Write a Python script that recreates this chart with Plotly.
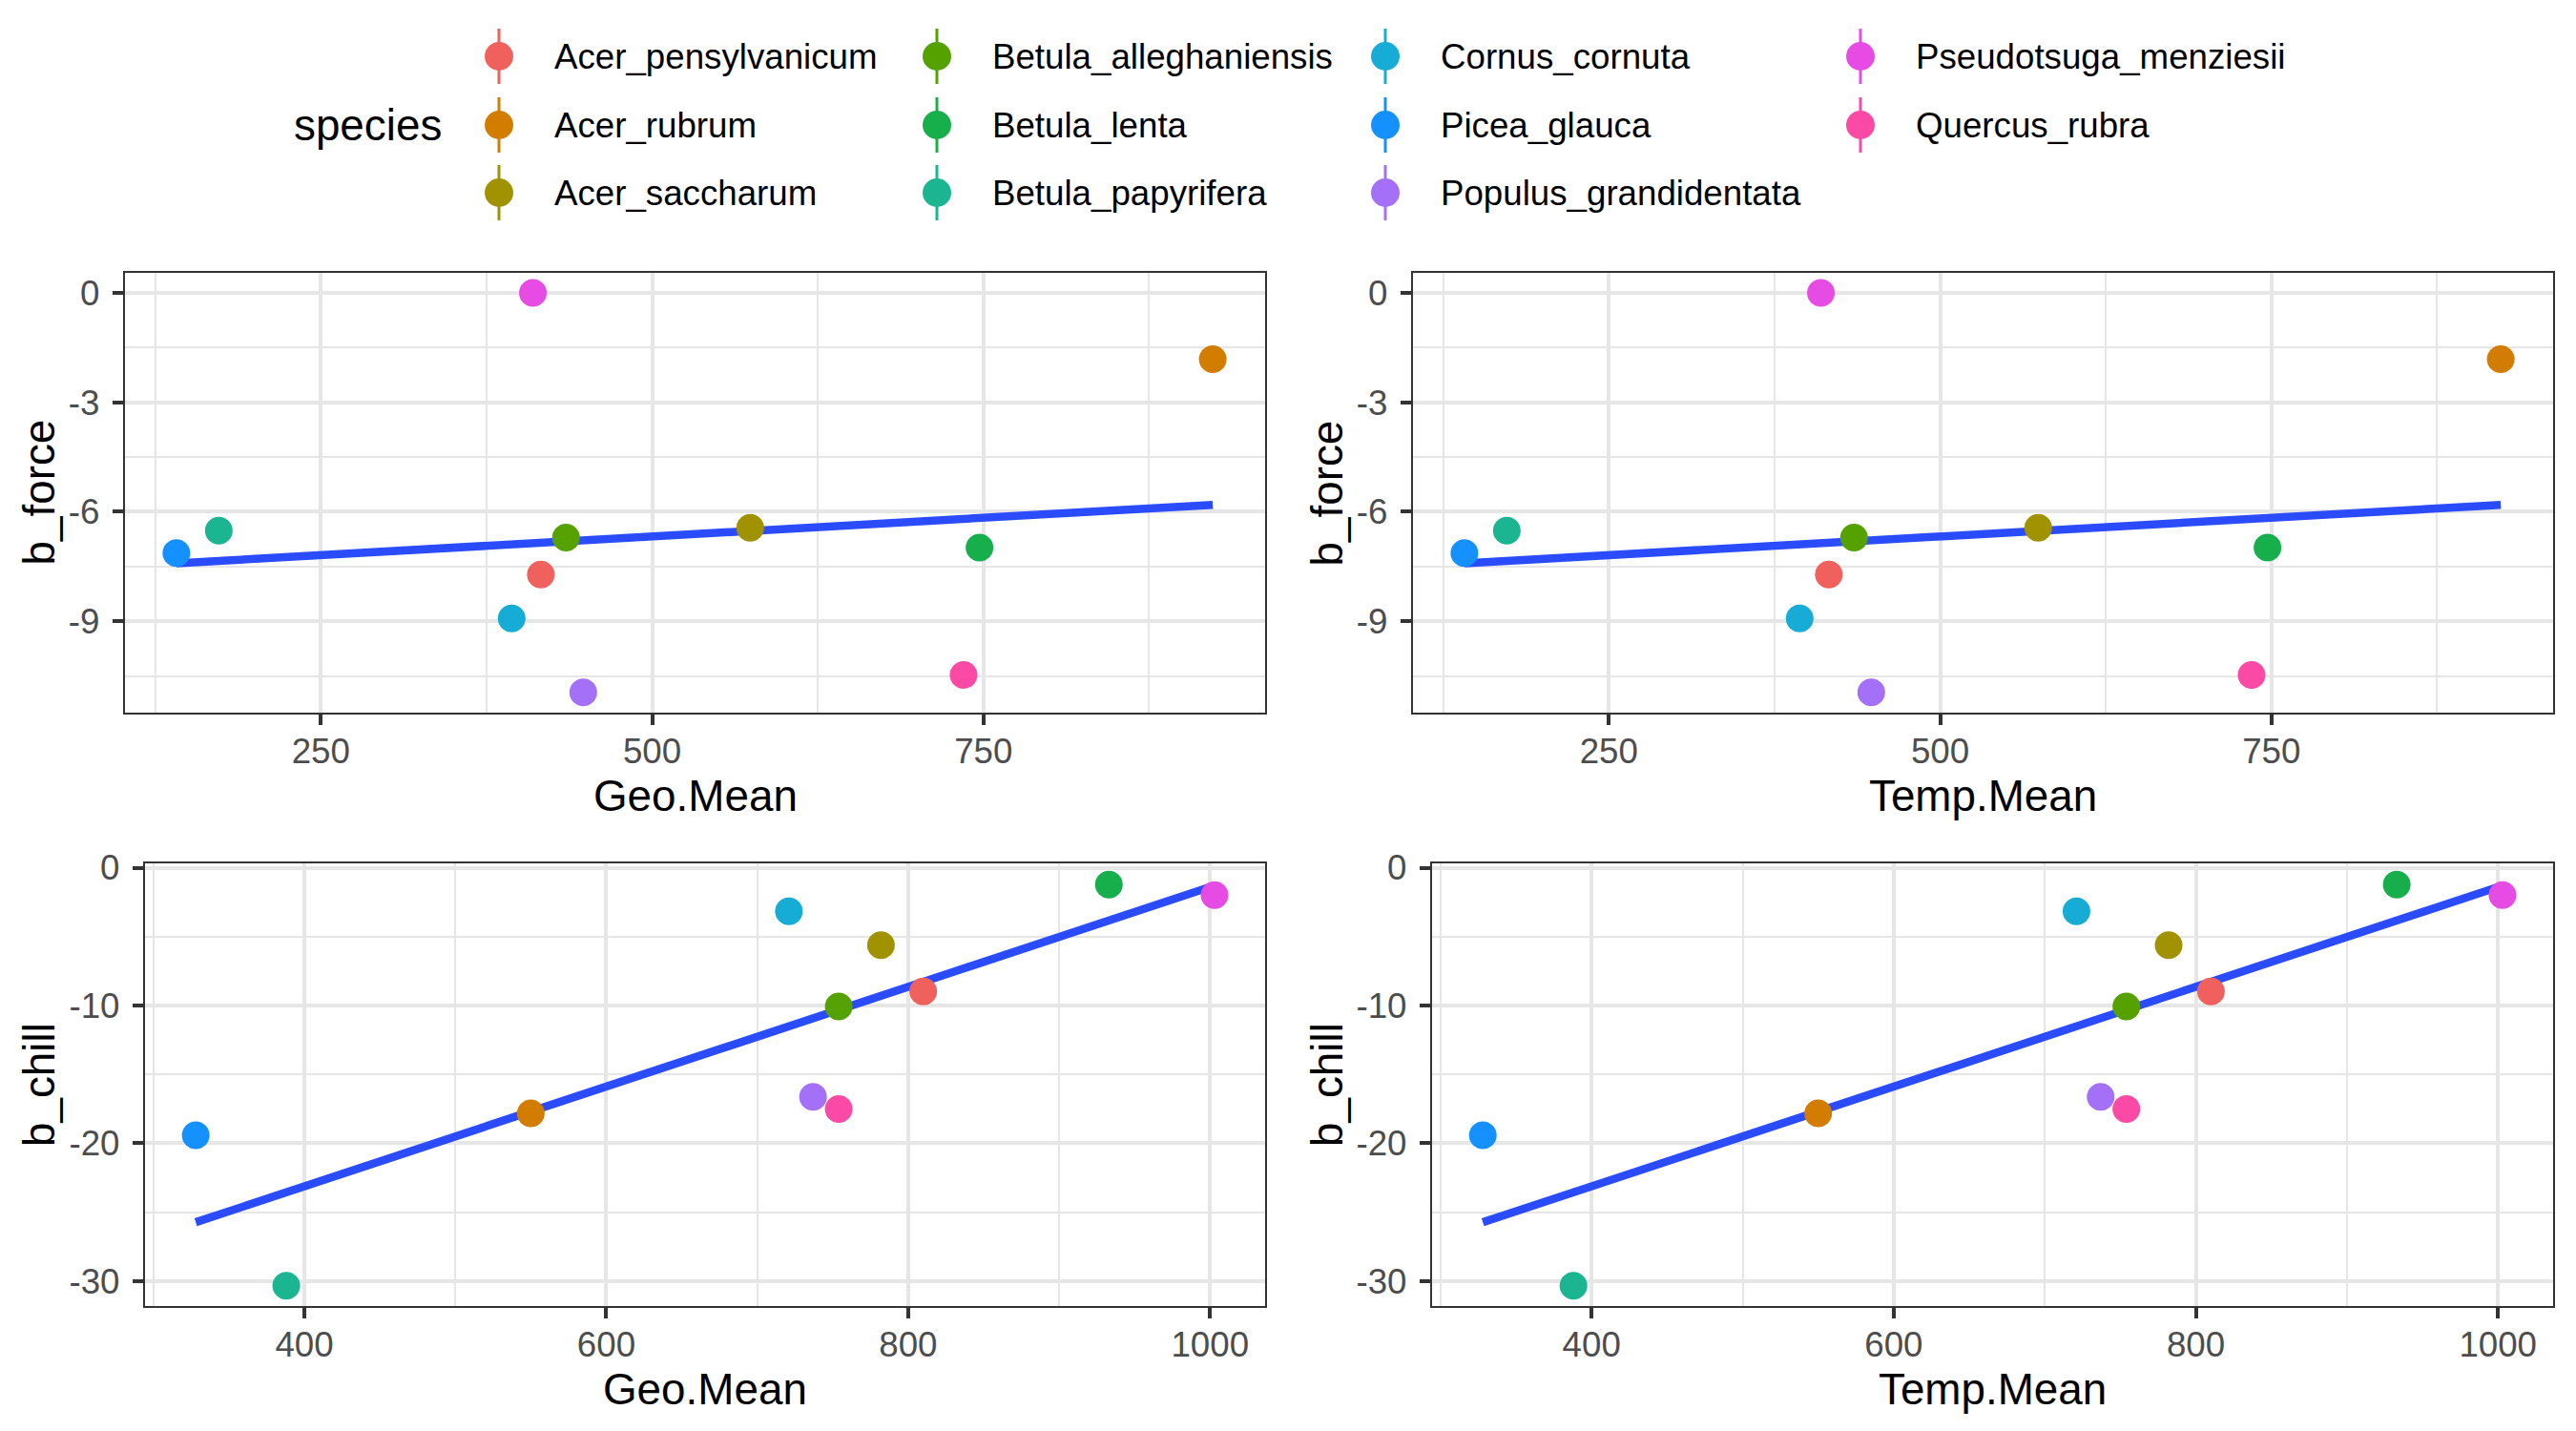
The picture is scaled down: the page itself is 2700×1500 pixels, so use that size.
import numpy as np
import plotly.graph_objs as go

# species and their colours (as they appear in the reference)
species = ["Acer_pensylvanicum", "Acer_rubrum", "Acer_saccharum",
           "Betula_alleghaniensis", "Betula_lenta", "Betula_papyrifera",
           "Cornus_cornuta", "Picea_glauca", "Populus_grandidentata",
           "Pseudotsuga_menziesii", "Quercus_rubra"]
colors = ["#F0615E", "#D27D00", "#A09200", "#54A100", "#17AF4C", "#1BB592",
          "#16ACD6", "#1491FF", "#A470F8", "#E64CE4", "#FA4AA5"]

# forcing panels (top row)
force_geo_mean = [416, 923, 574, 435, 747, 173, 394, 141, 448, 410, 735]
force_temp_mean = [416, 923, 574, 435, 747, 173, 394, 141, 448, 410, 735]
b_force = [-7.72, -1.82, -6.44, -6.71, -6.98, -6.52, -8.92, -7.13, -10.95, 0.0, -10.47]

# chilling panels (bottom row)
chill_geo_mean = [810, 550, 782, 754, 933, 388, 721, 328, 737, 1003, 754]
chill_temp_mean = [810, 550, 782, 754, 933, 388, 721, 328, 737, 1003, 754]
b_chill = [-8.97, -17.82, -5.61, -10.06, -1.22, -30.34, -3.16, -19.41, -16.62, -1.98, -17.51]

# tick values
force_x_ticks = [250, 500, 750]
force_y_ticks = [0, -3, -6, -9]
chill_x_ticks = [400, 600, 800, 1000]
chill_y_ticks = [0, -10, -20, -30]

OFF = 8  # page body margin
W, H = 2700 - OFF, 1500 - OFF
FONT = "Liberation Sans, Arial, Helvetica, sans-serif"
GRID = "#E6E6E6"


def px_x(p):
    return (p - OFF) / W


def px_y(p):
    return 1 - (p - OFF) / H


def axis_style(rng, ticks, minor, domain, anchor, standoff):
    return dict(range=rng, domain=domain, anchor=anchor,
                tickvals=ticks, ticktext=[str(v) for v in ticks],
                showgrid=True, gridcolor=GRID, gridwidth=4.2,
                minor=dict(tick0=0, dtick=minor, showgrid=True,
                           gridcolor=GRID, gridwidth=2.2),
                zeroline=False, showline=True, linecolor="#333333",
                linewidth=2.4, mirror=True, ticks="outside", ticklen=11,
                tickwidth=4, tickcolor="#333333", ticklabelstandoff=standoff,
                tickfont=dict(family=FONT, size=36.7, color="#4D4D4D"),
                automargin=False, fixedrange=True)


# panel boxes in pixels: (left, right, top, bottom)
panels = [
    (131, 1326, 286, 747),
    (1481, 2676, 286, 747),
    (152, 1326, 905, 1369),
    (1501, 2676, 905, 1369),
]
top_x = [102.2, 962.5]
top_y = [-11.505, 0.548]
bot_x = [294.4, 1036.5]
bot_y = [-31.81, 0.32]

panel_data = [
    (force_geo_mean, b_force, "Geo.Mean", "b_force", top_x, top_y,
     force_x_ticks, 125, force_y_ticks, 1.5),
    (force_temp_mean, b_force, "Temp.Mean", "b_force", top_x, top_y,
     force_x_ticks, 125, force_y_ticks, 1.5),
    (chill_geo_mean, b_chill, "Geo.Mean", "b_chill", bot_x, bot_y,
     chill_x_ticks, 100, chill_y_ticks, 5),
    (chill_temp_mean, b_chill, "Temp.Mean", "b_chill", bot_x, bot_y,
     chill_x_ticks, 100, chill_y_ticks, 5),
]

fig = go.Figure()
layout = dict(width=W, height=H, margin=dict(l=0, r=0, t=0, b=0),
              plot_bgcolor="rgba(0,0,0,0)", paper_bgcolor="white", showlegend=False,
              font=dict(family=FONT, color="black"))
annotations = []

for i, (xs, ys, xt, yt, xr, yr, xtk, xm, ytk, ym) in enumerate(panel_data):
    n = i + 1
    sx = "" if n == 1 else str(n)
    l, r, t, b = panels[i]

    # linear fit like geom_smooth(method = "lm", se = FALSE)
    slope, icpt = np.polyfit(xs, ys, 1)
    fx = np.array([min(xs), max(xs)])
    fig.add_trace(go.Scatter(x=fx, y=slope * fx + icpt, mode="lines",
                             line=dict(color="#2B4BFF", width=8.5),
                             xaxis="x" + sx, yaxis="y" + sx, hoverinfo="skip"))
    fig.add_trace(go.Scatter(x=xs, y=ys, mode="markers", text=species,
                             marker=dict(color=colors, size=29, line=dict(width=0)),
                             xaxis="x" + sx, yaxis="y" + sx))

    layout["xaxis" + sx] = axis_style(xr, xtk, xm, [px_x(l), px_x(r)], "y" + sx, -4)
    layout["yaxis" + sx] = axis_style(yr, ytk, ym, [px_y(b), px_y(t)], "x" + sx, 6)

    annotations.append(dict(text=xt, x=px_x((l + r) / 2), y=px_y(b + 87),
                            xref="paper", yref="paper", showarrow=False,
                            xanchor="center", yanchor="middle",
                            font=dict(size=45.8, color="black")))
    annotations.append(dict(text=yt, x=px_x(1391 if n % 2 == 0 else 41),
                            y=px_y((t + b) / 2),
                            xref="paper", yref="paper", showarrow=False,
                            textangle=-90, xanchor="center", yanchor="middle",
                            font=dict(size=45.8, color="black")))

# legend drawn on an overlay axis measured in pixels
col_x = [523, 982, 1452, 1950]
row_y = [59, 131, 202]
for k, name in enumerate(species):
    cx = col_x[k // 3]
    cy = row_y[k % 3]
    fig.add_trace(go.Scatter(x=[cx], y=[cy], mode="markers",
                             marker=dict(color=colors[k], size=30, line=dict(width=0)),
                             error_y=dict(type="constant", value=29, color=colors[k],
                                          thickness=3, width=0),
                             xaxis="x5", yaxis="y5", hoverinfo="skip"))
    annotations.append(dict(text=name, x=cx + 56, y=cy, xref="x5", yref="y5",
                            showarrow=False, xanchor="left", yanchor="middle",
                            font=dict(size=36.7, color="black")))
annotations.append(dict(text="species", x=306, y=131, xref="x5", yref="y5",
                        showarrow=False, xanchor="left", yanchor="middle",
                        font=dict(size=45.8, color="black")))

layout["xaxis5"] = dict(domain=[0, 1], range=[OFF, OFF + W], visible=False,
                        fixedrange=True)
layout["yaxis5"] = dict(domain=[0, 1], range=[OFF + H, OFF], visible=False,
                        fixedrange=True, anchor="x5")
layout["annotations"] = annotations
fig.update_layout(**layout)

fig.write_html("out.html")
